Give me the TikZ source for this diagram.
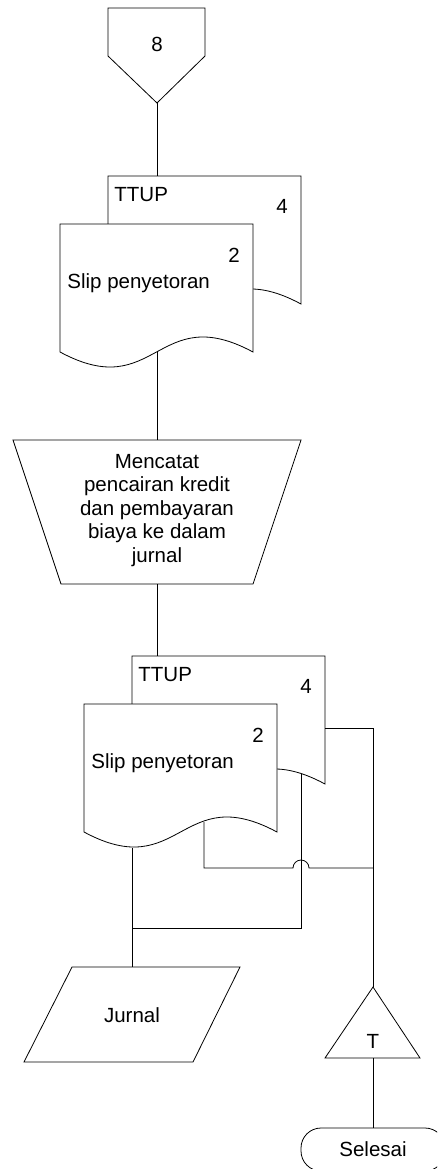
\documentclass[tikz,border=0pt]{standalone}
\usepackage{fontspec}
\setmainfont{Liberation Sans}
\newcommand\docshape[2]{%
  \begin{scope}[shift={(#1,#2)}]
    \path[shapebox] (0,0) -- (193,0) -- (193,128)
      .. controls (96.5,76) and (96.5,180) .. (0,128) -- cycle;
  \end{scope}}
\begin{document}
\begin{tikzpicture}[x=1pt,y=-1pt,line width=0.8pt,
  shapebox/.style={draw=black,fill=white,line join=miter},
  lbl/.style={inner sep=0pt,font=\fontsize{20.5}{23.5}\selectfont},
  conn/.style={draw=black}]
\useasboundingbox (0,0) rectangle (437,1169);
\clip (0,0) rectangle (437,1169);

% off-page connector 8
\path[shapebox] (108,8) -- (205,8) -- (205,56) -- (157,103) -- (108,56) -- cycle;
\node[lbl,anchor=base] (t8) at (157,52) {8};
\coordinate (c8) at (157,103);

% document group 1
\docshape{108}{176}
\docshape{60}{224}
\coordinate (ttup1top) at (157,176);
\coordinate (slip1bot) at (157,352);
\node[lbl,anchor=base west] (ttup1) at (114,201) {TTUP};
\node[lbl,anchor=base] (n41) at (282,213) {4};
\node[lbl,anchor=base] (n21) at (234,262) {2};
\node[lbl,anchor=base west] (slip1) at (67,288) {Slip penyetoran};

% manual operation
\path[shapebox] (13,440) -- (301,440) -- (253,584) -- (61,584) -- cycle;
\coordinate (mtop) at (157,440);
\coordinate (mbot) at (157,584);
\node[lbl,anchor=base,align=center] (mtext) at (157,562)
  {Mencatat\\pencairan kredit\\dan pembayaran\\biaya ke dalam\\jurnal};

% document group 2
\docshape{132}{656}
\docshape{84}{704}
\coordinate (ttup2top) at (157,656);
\coordinate (ttup2r) at (325,728);
\coordinate (ttup2w) at (301,773.5);
\coordinate (slip2crest) at (204,822);
\coordinate (slip2bot) at (132,848);
\node[lbl,anchor=base west] (ttup2) at (138,681) {TTUP};
\node[lbl,anchor=base] (n42) at (306,693) {4};
\node[lbl,anchor=base] (n22) at (258,742) {2};
\node[lbl,anchor=base west] (slip2) at (91,768) {Slip penyetoran};

% jurnal (manual input / data)
\path[shapebox] (72,967) -- (240,967) -- (193,1062) -- (24,1062) -- cycle;
\coordinate (jtop) at (132,967);
\node[lbl,anchor=base] (jurnal) at (132,1022) {Jurnal};

% triangle T
\path[shapebox] (373,987) -- (420,1058) -- (325,1058) -- cycle;
\coordinate (ttop) at (373,987);
\coordinate (tbot) at (373,1058);
\node[lbl,anchor=base] (tT) at (373,1048) {T};

% terminator Selesai
\path[shapebox,rounded corners=20pt] (301,1128) rectangle (445,1171);
\coordinate (stop) at (373,1128);
\node[lbl,anchor=base] (selesai) at (373,1156) {Selesai};

% connectors
\draw[conn] (c8) -- (ttup1top);
\draw[conn] (slip1bot) -- (mtop);
\draw[conn] (mbot) -- (ttup2top);
\draw[conn] (ttup2r) -- (373,728) -- (ttop);
\draw[conn] (ttup2w) -- (301,928) coordinate (j1) -- (132,928) coordinate (j2);
\draw[conn] (slip2crest) -- (204,868) -- (293,868) arc[start angle=180,end angle=360,radius=8] -- (373,868);
\draw[conn] (slip2bot) -- (jtop);
\draw[conn] (tbot) -- (stop);
\end{tikzpicture}
\end{document}
